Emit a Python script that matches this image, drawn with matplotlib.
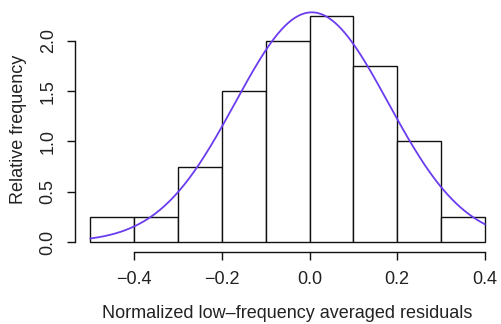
import numpy as np
import matplotlib
matplotlib.use("Agg")
import matplotlib.pyplot as plt

bin_edges = [-0.5, -0.4, -0.3, -0.2, -0.1, 0.0, 0.1, 0.2, 0.3, 0.4]
densities = [0.25, 0.25, 0.75, 1.5, 2.0, 2.25, 1.75, 1.0, 0.25]
fit_mean = 0.005
fit_sd = 0.1746
x_ticks = [-0.4, -0.2, 0.0, 0.2, 0.4]
x_ticklabels = ["\u22120.4", "\u22120.2", "0.0", "0.2", "0.4"]
y_ticks = [0.0, 0.5, 1.0, 1.5, 2.0]
y_ticklabels = ["0.0", "0.5", "1.0", "1.5", "2.0"]

plt.rcParams['font.family'] = ['Liberation Sans', 'DejaVu Sans']
txt = '#222222'

fig = plt.figure(figsize=(5.01, 3.24), dpi=100)
ax = fig.add_axes([74.7/501, (324-251)/324, 425.8/501, (251-6.8)/324])

edges = np.array(bin_edges)
ax.bar(edges[:-1], densities, width=np.diff(edges), align='edge',
       facecolor='white', edgecolor='#111111', linewidth=1.0)

xs = np.linspace(bin_edges[0], bin_edges[-1], 400)
ys = np.exp(-(xs - fit_mean)**2 / (2*fit_sd**2)) / (fit_sd*np.sqrt(2*np.pi))
ax.plot(xs, ys, color='#6B3CF0', linewidth=1.3)

ax.set_xlim(-0.536, 0.436)
ax.set_ylim(-0.09, 2.34)

for s in ['top', 'right']:
    ax.spines[s].set_visible(False)
ax.spines['left'].set_bounds(0, 2.0)
ax.spines['bottom'].set_bounds(-0.4, 0.4)
ax.spines['bottom'].set_position(('outward', 0.7))
for s in ['left', 'bottom']:
    ax.spines[s].set_color('#111111')
    ax.spines[s].set_linewidth(1.0)

ax.set_xticks(x_ticks)
ax.set_xticklabels(x_ticklabels)
ax.set_yticks(y_ticks)
ax.set_yticklabels(y_ticklabels, rotation=90, va='center')
ax.tick_params(direction='out', length=6, width=1.0, color='#111111',
               labelsize=13, labelcolor=txt)
ax.tick_params(axis='x', pad=8)
ax.tick_params(axis='y', pad=7)

ax.set_xlabel("Normalized low\u2013frequency averaged residuals", fontsize=13,
              color=txt, labelpad=12)
ax.set_ylabel("Relative frequency", fontsize=13, color=txt, labelpad=9)

fig.savefig("out.png", dpi=100)
